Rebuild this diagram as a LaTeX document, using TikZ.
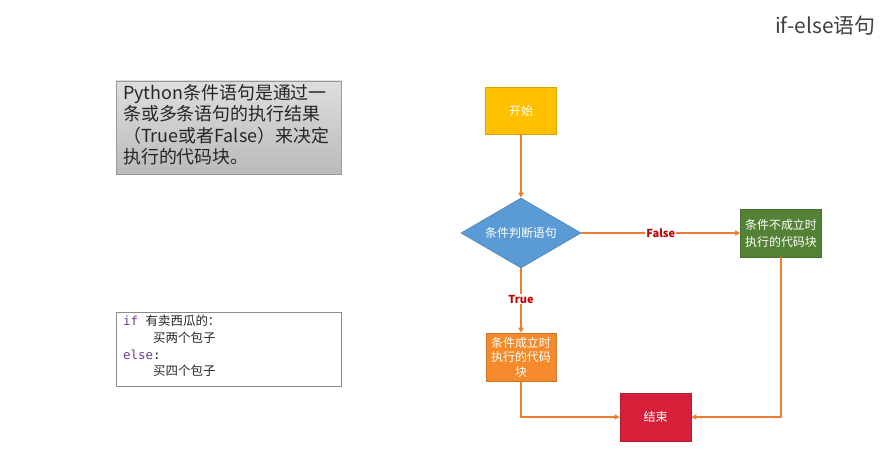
\documentclass[tikz,border=0pt]{standalone}
\usepackage{fontspec}
\setmainfont{Noto Sans CJK SC}
\newfontfamily\monof{DejaVu Sans Mono}
\usetikzlibrary{shapes.geometric,arrows.meta}
\definecolor{cstart}{HTML}{FFC000}
\definecolor{cdiam}{HTML}{5B9BD5}
\definecolor{cgreen}{HTML}{548235}
\definecolor{corange}{HTML}{F58A2C}
\definecolor{cred}{HTML}{D6203A}
\definecolor{cline}{HTML}{ED7D31}
\definecolor{clabel}{HTML}{C00000}
\definecolor{ckw}{HTML}{6F3A8C}
\definecolor{ctitle}{HTML}{404040}
\begin{document}
\begin{tikzpicture}[x=1bp,y=-1bp,
  flow/.style={draw=#1!85!black, fill=#1, line width=0.6bp, inner sep=0pt, align=center,
    text=white, font=\fontsize{12}{16}\selectfont},
  conn/.style={draw=cline, line width=1.2bp, -{Triangle[length=5bp,width=5bp]}},
  lbl/.style={fill=white, inner sep=1bp, text=clabel, font=\bfseries\fontsize{11}{13}\selectfont}]
\useasboundingbox[fill=white] (0,0) rectangle (884,453);
% title
\node[text=ctitle, font=\fontsize{21}{24}\selectfont, anchor=east] (title) at (879,26) {if-else语句};
% description box
\node[draw=black!40, line width=0.6bp, top color=black!13, bottom color=black!27,
  minimum width=225bp, minimum height=93bp, inner sep=0pt] (desc) at (228.5,127.5) {};
\node[anchor=north west, align=left, inner sep=0pt, text=black!85,
  font=\fontsize{18}{21.5}\selectfont] (desctext) at (123,84)
  {Python条件语句是通过一\\条或多条语句的执行结果\\（True或者False）来决定\\执行的代码块。};
% code box
\node[draw=black!45, line width=0.6bp, fill=white, minimum width=225bp, minimum height=74bp,
  inner sep=0pt] (code) at (228.5,349) {};
\node[anchor=north west, align=left, inner sep=0pt, text=black!85,
  font=\fontsize{12.5}{16.8}\selectfont] (codetext) at (123,315)
  {{\monof\color{ckw}if\ }有卖西瓜的：\\
   {\monof\phantom{xxxx}}买两个包子\\
   {\monof\color{ckw}else}{\monof :}\\
   {\monof\phantom{xxxx}}买四个包子};
% flowchart
\node[flow=cstart, minimum width=71bp, minimum height=47bp] (start) at (521,110.5) {开始};
\node[flow=cdiam, diamond, minimum width=120bp, minimum height=70bp, aspect=1.714] (cond) at (521,233) {条件判断语句};
\node[flow=cgreen, minimum width=81bp, minimum height=48bp, font=\fontsize{12}{17}\selectfont] (no) at (781,233) {条件不成立时\\执行的代码块};
\node[flow=corange, minimum width=70bp, minimum height=48bp, font=\fontsize{12}{14.5}\selectfont] (yes) at (521,357) {条件成立时\\执行的代码\\块};
\node[flow=cred, minimum width=71bp, minimum height=48bp] (end) at (655.5,417) {结束};
\coordinate (c1) at (521,417);
\coordinate (c2) at (781,417);
\draw[conn] (start.south) -- (cond.north);
\draw[conn] (cond.east) -- node[lbl, pos=0.5] {False} (no.west);
\draw[conn] (cond.south) -- node[lbl, pos=0.48] {True} (yes.north);
\draw[conn] (yes.south) -- (c1) -- (end.west);
\draw[conn] (no.south) -- (c2) -- (end.east);
\end{tikzpicture}
\end{document}
